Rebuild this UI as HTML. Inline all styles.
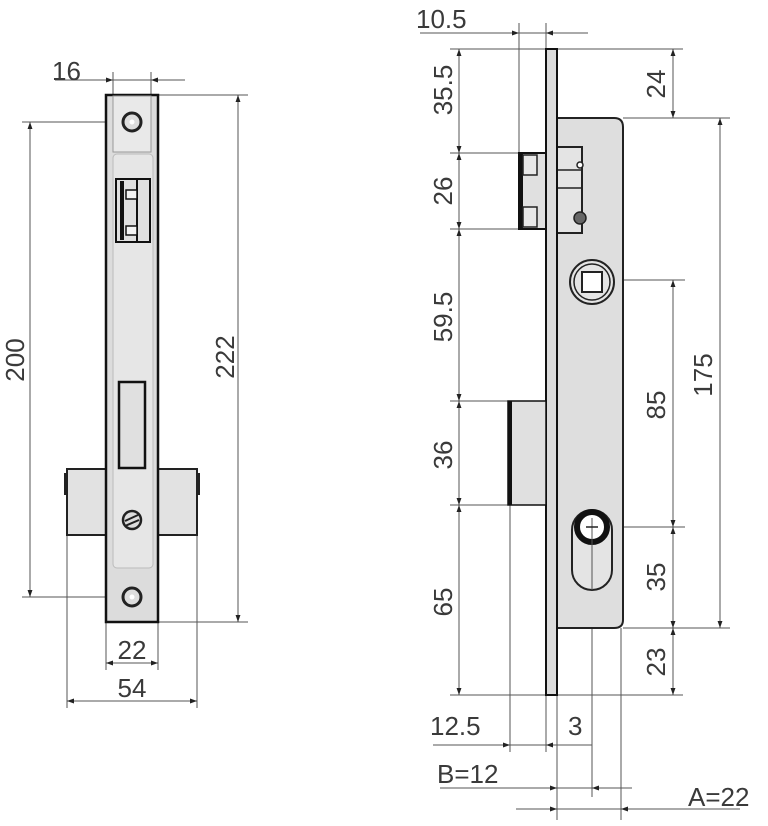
<!DOCTYPE html>
<html><head><meta charset="utf-8"><style>
html,body{margin:0;padding:0;background:#fff;}
svg{display:block;}
text{font-family:"Liberation Sans",sans-serif;font-size:26px;fill:#3a3a3a;}
</style></head><body>
<svg width="768" height="826" viewBox="0 0 768 826" xmlns="http://www.w3.org/2000/svg">
<defs>
<marker id="a" viewBox="0 0 10 10" refX="10" refY="5" markerWidth="7" markerHeight="7" orient="auto-start-reverse" markerUnits="userSpaceOnUse"><path d="M0,1.5 L10,5 L0,8.5 z" fill="#222"/></marker>
</defs>
<g stroke="#555" stroke-width="1" fill="none">
<line x1="55" y1="80" x2="185" y2="80"/>
<line x1="90" y1="80" x2="113" y2="80" marker-end="url(#a)"/>
<line x1="175" y1="80" x2="151" y2="80" marker-end="url(#a)"/>
<line x1="113" y1="72" x2="113" y2="100"/><line x1="151" y1="72" x2="151" y2="100"/>
<line x1="22" y1="122" x2="125" y2="122"/><line x1="22" y1="597" x2="125" y2="597"/>
<line x1="30" y1="122" x2="30" y2="597" marker-start="url(#a)" marker-end="url(#a)"/>
<line x1="158" y1="95" x2="248" y2="95"/><line x1="158" y1="622" x2="248" y2="622"/>
<line x1="238" y1="95" x2="238" y2="622" marker-start="url(#a)" marker-end="url(#a)"/>
<line x1="106" y1="622" x2="106" y2="670"/><line x1="158" y1="622" x2="158" y2="670"/>
<line x1="106" y1="663" x2="158" y2="663" marker-start="url(#a)" marker-end="url(#a)"/>
<line x1="67" y1="535" x2="67" y2="708"/><line x1="197" y1="535" x2="197" y2="708"/>
<line x1="67" y1="701" x2="197" y2="701" marker-start="url(#a)" marker-end="url(#a)"/>
</g>
<rect x="67" y="469" width="130" height="66" fill="#e2e2e2" stroke="#222" stroke-width="2"/>
<rect x="64" y="473" width="4" height="22" fill="#222"/><rect x="196" y="473" width="4" height="22" fill="#222"/>
<rect x="106" y="95" width="52" height="527" fill="#dcdcdc" stroke="#111" stroke-width="2.5"/>
<rect x="113" y="96" width="38" height="56" fill="#e9e9e9" stroke="#999" stroke-width="1"/>
<rect x="113" y="154" width="40" height="414" rx="4" fill="#e6e6e6" stroke="#bbb" stroke-width="1"/>
<circle cx="132" cy="122" r="9" fill="#ddd" stroke="#222" stroke-width="3"/><circle cx="132" cy="122" r="2.5" fill="#fff"/>
<circle cx="132" cy="597" r="9" fill="#ddd" stroke="#222" stroke-width="3"/><circle cx="132" cy="597" r="2.5" fill="#fff"/>
<rect x="116" y="179" width="34" height="63" fill="#e0e0e0" stroke="#111" stroke-width="2"/>
<rect x="120" y="181" width="4" height="59" fill="#111"/>
<line x1="137" y1="179" x2="137" y2="242" stroke="#111" stroke-width="2"/>
<rect x="126" y="190" width="11" height="9" fill="#f4f4f4" stroke="#111" stroke-width="1.5"/>
<rect x="126" y="226" width="11" height="9" fill="#f4f4f4" stroke="#111" stroke-width="1.5"/>
<rect x="119" y="382" width="26" height="86" fill="#e0e0e0" stroke="#111" stroke-width="2.5"/>
<circle cx="132" cy="520" r="9" fill="#ddd" stroke="#222" stroke-width="2.5"/>
<g stroke="#222" stroke-width="2"><line x1="125" y1="521" x2="138" y2="515"/><line x1="125" y1="526" x2="139" y2="520"/></g>
<text x="52" y="80">16</text>
<text transform="translate(24,360) rotate(-90)" text-anchor="middle">200</text>
<text transform="translate(234,357) rotate(-90)" text-anchor="middle">222</text>
<text x="132" y="659" text-anchor="middle">22</text>
<text x="132" y="697" text-anchor="middle">54</text>

<g stroke="#555" stroke-width="1" fill="none">
<line x1="420" y1="33" x2="588" y2="33"/>
<line x1="497" y1="33" x2="519" y2="33" marker-end="url(#a)"/>
<line x1="568" y1="33" x2="546" y2="33" marker-end="url(#a)"/>
<line x1="519" y1="23" x2="519" y2="153"/><line x1="546" y1="23" x2="546" y2="49"/>
<line x1="450" y1="49" x2="683" y2="49"/>
<line x1="450" y1="153" x2="546" y2="153"/><line x1="450" y1="229" x2="546" y2="229"/>
<line x1="450" y1="401" x2="508" y2="401"/><line x1="450" y1="505" x2="508" y2="505"/>
<line x1="450" y1="695" x2="683" y2="695"/>
<line x1="459" y1="49" x2="459" y2="153" marker-start="url(#a)" marker-end="url(#a)"/>
<line x1="459" y1="153" x2="459" y2="229" marker-start="url(#a)" marker-end="url(#a)"/>
<line x1="459" y1="229" x2="459" y2="401" marker-start="url(#a)" marker-end="url(#a)"/>
<line x1="459" y1="401" x2="459" y2="505" marker-start="url(#a)" marker-end="url(#a)"/>
<line x1="459" y1="505" x2="459" y2="695" marker-start="url(#a)" marker-end="url(#a)"/>
<line x1="623" y1="118" x2="730" y2="118"/><line x1="623" y1="628" x2="730" y2="628"/>
<line x1="600" y1="280" x2="685" y2="280"/><line x1="612" y1="527" x2="685" y2="527"/>
<line x1="673" y1="49" x2="673" y2="118" marker-start="url(#a)" marker-end="url(#a)"/>
<line x1="673" y1="280" x2="673" y2="527" marker-start="url(#a)" marker-end="url(#a)"/>
<line x1="673" y1="527" x2="673" y2="628" marker-start="url(#a)" marker-end="url(#a)"/>
<line x1="673" y1="628" x2="673" y2="695" marker-start="url(#a)" marker-end="url(#a)"/>
<line x1="720" y1="118" x2="720" y2="628" marker-start="url(#a)" marker-end="url(#a)"/>
<line x1="592" y1="280" x2="592" y2="797"/>
<line x1="510" y1="505" x2="510" y2="752"/><line x1="546" y1="695" x2="546" y2="752"/>
<line x1="557" y1="695" x2="557" y2="820"/><line x1="621" y1="628" x2="621" y2="820"/>
<line x1="433" y1="745" x2="592" y2="745"/>
<line x1="490" y1="745" x2="510" y2="745" marker-end="url(#a)"/>
<line x1="565" y1="745" x2="546" y2="745" marker-end="url(#a)"/>
<line x1="440" y1="788" x2="632" y2="788"/>
<line x1="537" y1="788" x2="557" y2="788" marker-end="url(#a)"/>
<line x1="612" y1="788" x2="592" y2="788" marker-end="url(#a)"/>
<line x1="516" y1="809" x2="740" y2="809"/>
<line x1="537" y1="809" x2="557" y2="809" marker-end="url(#a)"/>
<line x1="642" y1="809" x2="621" y2="809" marker-end="url(#a)"/>
</g>
<path d="M557,118 H614 Q623,118 623,127 V620 Q623,628 614,628 H557 Z" fill="#dedede" stroke="#222" stroke-width="2"/>
<rect x="546" y="49" width="11" height="646" fill="#dcdcdc" stroke="#111" stroke-width="2"/>
<path d="M519,153 h27 v76 h-27 z" fill="#e0e0e0" stroke="#111" stroke-width="2"/>
<rect x="519" y="153" width="4" height="76" fill="#111"/>
<rect x="523" y="155" width="14" height="20" fill="#e8e8e8" stroke="#222" stroke-width="1.5"/>
<rect x="523" y="207" width="14" height="20" fill="#e8e8e8" stroke="#222" stroke-width="1.5"/>
<path d="M558,147 h24 v86 h-24" fill="#e4e4e4" stroke="#222" stroke-width="2"/>
<line x1="558" y1="170" x2="582" y2="170" stroke="#222" stroke-width="1.5"/>
<line x1="558" y1="188" x2="582" y2="188" stroke="#222" stroke-width="1.5"/>
<circle cx="580" cy="165" r="3" fill="#fff" stroke="#222" stroke-width="1.5"/>
<circle cx="580" cy="218" r="6" fill="#666" stroke="#222" stroke-width="1.5"/>
<rect x="508" y="401" width="38" height="104" fill="#e0e0e0" stroke="#111" stroke-width="1.5"/>
<rect x="508" y="401" width="4" height="104" fill="#111"/>
<circle cx="592" cy="282" r="22" fill="#e4e4e4" stroke="#222" stroke-width="2"/>
<circle cx="592" cy="282" r="18" fill="none" stroke="#222" stroke-width="1.5"/>
<rect x="582" y="272" width="20" height="20" fill="#fff" stroke="#222" stroke-width="2"/>
<rect x="572" y="510" width="40" height="80" rx="20" fill="#e4e4e4" stroke="#222" stroke-width="2"/>
<circle cx="592" cy="527" r="15" fill="#fff" stroke="#111" stroke-width="6"/>
<line x1="592" y1="518" x2="592" y2="590" stroke="#555" stroke-width="1"/>
<line x1="586" y1="527" x2="598" y2="527" stroke="#222" stroke-width="1.5"/>
<text x="416" y="28">10.5</text>
<text transform="translate(452,90) rotate(-90)" text-anchor="middle">35.5</text>
<text transform="translate(452,191) rotate(-90)" text-anchor="middle">26</text>
<text transform="translate(452,317) rotate(-90)" text-anchor="middle">59.5</text>
<text transform="translate(452,455) rotate(-90)" text-anchor="middle">36</text>
<text transform="translate(452,602) rotate(-90)" text-anchor="middle">65</text>
<text transform="translate(665,84) rotate(-90)" text-anchor="middle">24</text>
<text transform="translate(665,405) rotate(-90)" text-anchor="middle">85</text>
<text transform="translate(665,577) rotate(-90)" text-anchor="middle">35</text>
<text transform="translate(665,662) rotate(-90)" text-anchor="middle">23</text>
<text transform="translate(712,375) rotate(-90)" text-anchor="middle">175</text>
<text x="430" y="735">12.5</text>
<text x="568" y="735">3</text>
<text x="437" y="783">B=12</text>
<text x="688" y="806">A=22</text>
</svg>
</body></html>
